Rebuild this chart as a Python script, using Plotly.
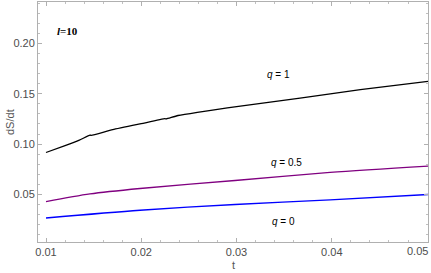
import plotly.graph_objects as go

# data
t_q1 = [0.0100, 0.0120, 0.0135, 0.01462, 0.01475, 0.0170, 0.0200, 0.02249, 0.02262, 0.02386, 0.0304, 0.03667, 0.0430, 0.0501]
v_q1 = [0.0917, 0.0985, 0.1040, 0.1089, 0.1087, 0.1143, 0.1203, 0.1252, 0.1250, 0.1284, 0.1378, 0.1457, 0.1540, 0.1622]

t_q05 = [0.0100, 0.01462, 0.01987, 0.02984, 0.03982, 0.0501]
v_q05 = [0.0430, 0.0506, 0.0560, 0.0639, 0.0719, 0.0781]

t_q0 = [0.0100, 0.01987, 0.02984, 0.03982, 0.0501]
v_q0 = [0.0267, 0.0344, 0.0401, 0.0446, 0.0500]

curve_labels = ["<i>q</i> = 1", "<i>q</i> = 0.5", "<i>q</i> = 0"]
label_t = [0.0344, 0.0352, 0.0349]
label_v = [0.169, 0.082, 0.0228]

x_ticks = [0.01, 0.02, 0.03, 0.04, 0.05]
x_ticklabels = ["0.01", "0.02", "0.03", "0.04", "0.05"]
y_ticks = [0.05, 0.10, 0.15, 0.20]
y_ticklabels = ["0.05", "0.10", "0.15", "0.20"]

fig = go.Figure()
fig.add_trace(go.Scatter(x=t_q1, y=v_q1, mode="lines",
                         line=dict(color="#000000", width=1.3, shape="spline", smoothing=0.5)))
fig.add_trace(go.Scatter(x=t_q05, y=v_q05, mode="lines",
                         line=dict(color="#800080", width=1.3, shape="spline", smoothing=0.8)))
fig.add_trace(go.Scatter(x=t_q0, y=v_q0, mode="lines",
                         line=dict(color="#0000ff", width=1.3, shape="spline", smoothing=0.8)))

for txt, tx, vy in zip(curve_labels, label_t, label_v):
    fig.add_annotation(x=tx, y=vy, text=txt, showarrow=False,
                       font=dict(family="Liberation Sans, Arial", size=10, color="#000"))

fig.add_annotation(x=0.0123, y=0.2125, text="<b><i>l</i>=10</b>", showarrow=False,
                   font=dict(family="Liberation Serif, Times New Roman", size=11, color="#000"))

tick_font = dict(family="Liberation Sans, Arial", size=11, color="#4d4d4d")

# axis titles (pixel positions converted to paper coordinates below)
fig.add_annotation(x=10, y=122, xref="paper", yref="paper", text="dS/dt", showarrow=False,
                   textangle=-90, xanchor="center", yanchor="middle",
                   font=dict(family="Liberation Sans, Arial", size=11, color="#555"))
fig.add_annotation(x=233, y=265, xref="paper", yref="paper", text="t", showarrow=False,
                   xanchor="center", yanchor="middle",
                   font=dict(family="Liberation Sans, Arial", size=11, color="#555"))
# last x tick label, kept inside the picture like in the reference
fig.add_annotation(x=430, y=251, xref="paper", yref="paper", text=x_ticklabels[-1], showarrow=False,
                   xanchor="right", yanchor="middle", font=tick_font)

W, H = 431, 273
ml, mr, mt, mb = 38, 3, 2, 31
for a in fig.layout.annotations:
    if a.xref == "paper":
        a.x = (a.x - ml) / (W - ml - mr)
        a.y = 1 - (a.y - mt) / (H - mt - mb)

axis_common = dict(
    showline=True, linecolor="#b0b0b0", linewidth=1, mirror="ticks",
    ticks="inside", ticklen=4, tickcolor="#b0b0b0", tickwidth=1,
    showgrid=False, zeroline=False, automargin=False, ticklabeloverflow="allow",
    tickfont=tick_font,
)

fig.update_xaxes(range=[0.00916, 0.0501], tickvals=x_ticks, ticktext=x_ticklabels[:-1] + [""],
                 minor=dict(ticks="inside", ticklen=2, tickcolor="#c0c0c0", dtick=0.002, tick0=0.01, showgrid=False),
                 **axis_common)
fig.update_yaxes(range=[0.0029, 0.241], tickvals=y_ticks, ticktext=y_ticklabels,
                 minor=dict(ticks="inside", ticklen=2, tickcolor="#c0c0c0", dtick=0.01, tick0=0.0, showgrid=False),
                 **axis_common)

fig.update_layout(width=W, height=H, margin=dict(l=ml, r=mr, t=mt, b=mb, autoexpand=False),
                  paper_bgcolor="white", plot_bgcolor="white", showlegend=False)

fig.write_html("out.html", config={"displayModeBar": False},
               post_script="document.body.style.margin='0';document.body.style.padding='0';"
                           "document.body.style.overflow='hidden';")
